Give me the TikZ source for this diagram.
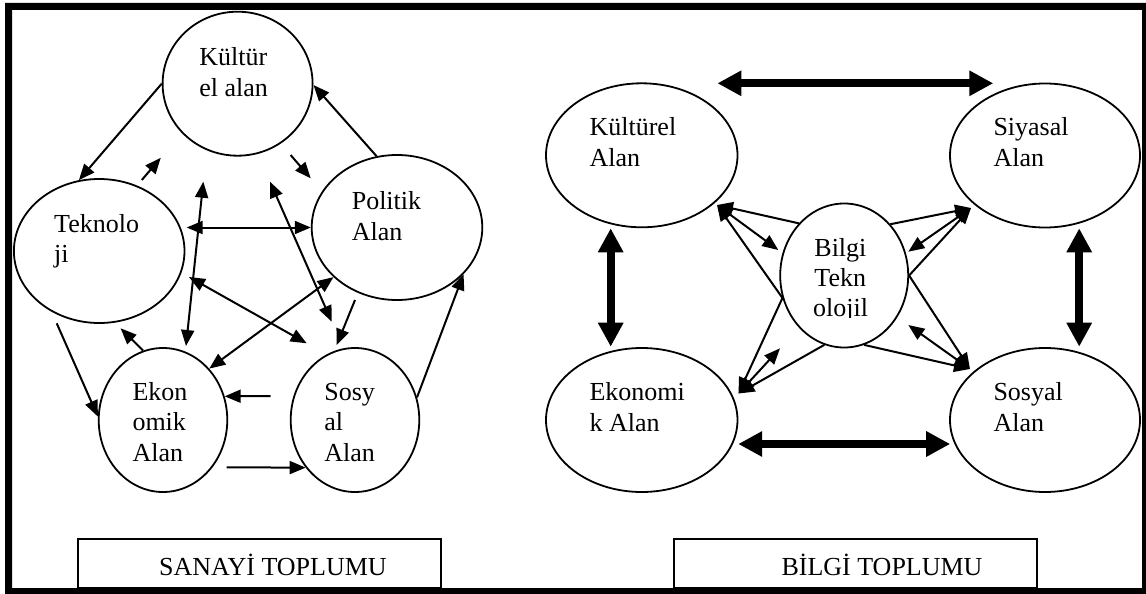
\documentclass[tikz,border=0pt]{standalone}
\usepackage{fontspec}
\setmainfont{Liberation Serif}
\usetikzlibrary{arrows.meta,shapes.geometric}
\begin{document}
\begin{tikzpicture}[x=1pt,y=-1pt,
  area/.style={draw, line width=1.8pt, ellipse, inner sep=0pt},
  lbl/.style={anchor=base west, inner sep=0pt, font=\fontsize{26}{30}\selectfont},
  arr/.style={line width=2pt, -{Triangle[length=16pt,width=13pt]}},
  darr/.style={line width=2pt, {Triangle[length=16pt,width=13pt]}-{Triangle[length=16pt,width=13pt]}},
  bigarr/.style={line width=8pt, {Triangle[length=24pt,width=24pt]}-{Triangle[length=24pt,width=24pt]}},
  boxstyle/.style={draw, line width=2pt, inner sep=0pt, minimum width=363pt, minimum height=49pt}]
\useasboundingbox (0,0) rectangle (1146,594);

% ---------- left: SANAYI TOPLUMU ----------
\node[area, minimum width=150pt, minimum height=144pt] (kul) at (237.6,83.7) {};
\node[area, minimum width=170.6pt, minimum height=144pt] (tek) at (99.2,251) {};
\node[area, minimum width=170.6pt, minimum height=145pt] (pol) at (397,227.5) {};
\node[area, minimum width=128.6pt, minimum height=144pt] (eko) at (163,420) {};
\node[area, minimum width=128.6pt, minimum height=144pt] (sos) at (355,420) {};

\node[lbl] (kul1) at (199.2,66) {Kültür};
\node[lbl] (kul2) at (199.2,96) {el alan};
\node[lbl] (tek1) at (54,232) {Teknolo};
\node[lbl] (tek2) at (54,262) {ji};
\node[lbl] (pol1) at (351.6,209) {Politik};
\node[lbl] (pol2) at (351.6,240) {Alan};
\node[lbl] (eko1) at (132.3,400.7) {Ekon};
\node[lbl] (eko2) at (132.3,430.7) {omik};
\node[lbl] (eko3) at (132.3,461.5) {Alan};
\node[lbl] (sos1) at (324.2,400.7) {Sosy};
\node[lbl] (sos2) at (324.2,430.7) {al};
\node[lbl] (sos3) at (324.2,461.5) {Alan};

\coordinate (a2s) at (141.8,180);
\coordinate (a2e) at (160.8,157.7);
\coordinate (a3s) at (290.6,155);
\coordinate (a3e) at (310.7,178.3);
\coordinate (a5) at (186.7,227.5);
\coordinate (a6s) at (203.3,181.7);
\coordinate (a6e) at (186,346);
\coordinate (a7s) at (270,181.7);
\coordinate (a7e) at (331.7,321.7);
\coordinate (a8s) at (189,277);
\coordinate (a8e) at (306.7,343.3);
\coordinate (a10s) at (355,300);
\coordinate (a10e) at (336.7,345);
\coordinate (a11e) at (120.6,328.3);
\coordinate (a12s) at (56.7,323.3);
\coordinate (a13s) at (270.5,396);
\coordinate (a14s) at (226.6,467.3);

\draw[arr] (kul.180) -- (tek.106);
\draw[arr] (a2s) -- (a2e);
\draw[arr] (a3s) -- (a3e);
\draw[arr] (pol.106) -- (kul.-1);
\draw[darr] (a5) -- (pol.180);
\draw[darr] (a6s) -- (a6e);
\draw[darr] (a7s) -- (a7e);
\draw[darr] (a8s) -- (a8e);
\draw[darr] (pol.218) -- (eko.48);
\draw[arr] (a10s) -- (a10e);
\draw[arr] (eko.106) -- (a11e);
\draw[arr] (a12s) -- (eko.177);
\draw[arr] (a13s) -- (eko.21.6);
\draw[arr] (a14s) -- (sos.224.3);
\draw[arr] (sos.20) -- (pol.-35);

\node[boxstyle] (sbox) at (259,563.5) {};
\node[lbl] (stxt) at (159,575) {SANAYİ TOPLUMU};

% ---------- right: BILGI TOPLUMU ----------
\node[area, minimum width=191.5pt, minimum height=144pt] (kr) at (641.75,155.3) {};
\node[area, minimum width=190pt, minimum height=144pt] (sr) at (1045,155.5) {};
\node[area, minimum width=191.5pt, minimum height=144pt] (er) at (641.75,420) {};
\node[area, minimum width=190pt, minimum height=144pt] (ssr) at (1045,420) {};
\node[area, minimum width=128pt, minimum height=144pt] (bt) at (844.2,275.5) {};

\node[lbl] (kr1) at (589.4,135) {Kültürel};
\node[lbl] (kr2) at (589.4,166.7) {Alan};
\node[lbl] (sr1) at (993.3,135) {Siyasal};
\node[lbl] (sr2) at (993.3,166.7) {Alan};
\node[lbl] (er1) at (589.4,400) {Ekonomi};
\node[lbl] (er2) at (589.4,431) {k Alan};
\node[lbl] (ssr1) at (993.3,400) {Sosyal};
\node[lbl] (ssr2) at (993.3,431) {Alan};
\node[lbl] (bt1) at (814.2,256.7) {Bilgi};
\node[lbl] (bt2) at (814.2,286.7) {Tekn};
\begin{scope}
\clip (790,290) rectangle (900,317.5);
\node[lbl] (bt3) at (813,316.7) {olojil};
\end{scope}

\coordinate (t1s) at (717.4,83.3);
\coordinate (t1e) at (993.3,83.3);
\coordinate (t2s) at (610.7,228.3);
\coordinate (t2e) at (610.7,346.7);
\coordinate (t3s) at (1079.2,228.3);
\coordinate (t3e) at (1079.2,346.7);
\coordinate (t4s) at (738.2,444);
\coordinate (t4e) at (950.2,444);
\draw[bigarr] (t1s) -- (t1e);
\draw[bigarr] (t2s) -- (t2e);
\draw[bigarr] (t3s) -- (t3e);
\draw[bigarr] (t4s) -- (t4e);

\coordinate (kc) at (717,205);
\coordinate (ec) at (738.5,393.5);
\coordinate (sc) at (971,208);
\coordinate (ssc) at (970,369);
\coordinate (r2e) at (778.3,250);
\coordinate (r3e) at (780,348.3);
\coordinate (r6e) at (908.3,251.7);
\coordinate (r7s) at (908.3,325);

\draw[arr] (bt.131) -- (kc);
\draw[darr] (kc) -- (r2e);
\draw[arr] (bt.200) -- (kc);
\draw[arr] (bt.200) -- (ec);
\draw[darr] (ec) -- (r3e);
\draw[arr] (bt.254) -- (ec);
\draw[arr] (bt.48) -- (sc);
\draw[darr] (sc) -- (r6e);
\draw[arr] (bt.0) -- (sc);
\draw[arr] (bt.0) -- (ssc);
\draw[darr] (r7s) -- (ssc);
\draw[arr] (bt.286) -- (ssc);

\node[boxstyle] (bbox) at (855,563.5) {};
\node[lbl] (btxt) at (781.3,575) {BİLGİ TOPLUMU};

% ---------- outer frame ----------
\fill[even odd rule] (5,3) rectangle (1146,594) (12,10) rectangle (1142,588);
\end{tikzpicture}
\end{document}
